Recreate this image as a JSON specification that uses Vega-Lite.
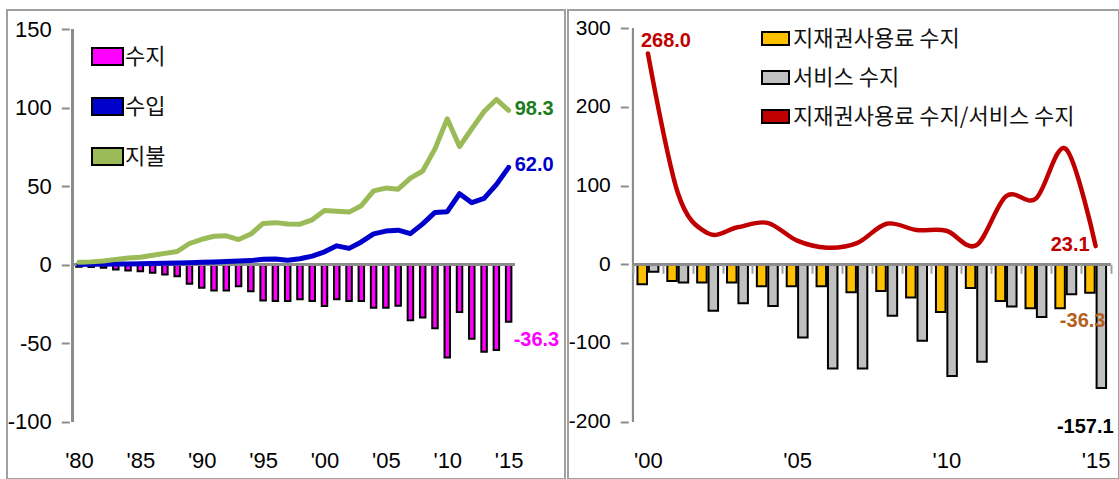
{
  "$schema": "https://vega.github.io/schema/vega-lite/v6.json",
  "background": "white",
  "padding": {"left": 6, "top": 9, "right": 0, "bottom": 0},
  "spacing": 3,
  "bounds": "flush",
  "datasets": {
    "royalty": [
      {"year": 1980, "receipts": 0.2, "payments": 1.5, "balance": -1.3},
      {"year": 1981, "receipts": 0.3, "payments": 1.8, "balance": -1.5},
      {"year": 1982, "receipts": 0.3, "payments": 2.3, "balance": -2.0},
      {"year": 1983, "receipts": 0.4, "payments": 3.4, "balance": -3.0},
      {"year": 1984, "receipts": 0.5, "payments": 4.2, "balance": -3.7},
      {"year": 1985, "receipts": 0.6, "payments": 4.7, "balance": -4.1},
      {"year": 1986, "receipts": 0.8, "payments": 6.0, "balance": -5.2},
      {"year": 1987, "receipts": 1.0, "payments": 7.2, "balance": -6.2},
      {"year": 1988, "receipts": 1.1, "payments": 8.4, "balance": -7.3},
      {"year": 1989, "receipts": 1.3, "payments": 13.5, "balance": -12.2},
      {"year": 1990, "receipts": 1.5, "payments": 16.2, "balance": -14.7},
      {"year": 1991, "receipts": 1.7, "payments": 18.1, "balance": -16.4},
      {"year": 1992, "receipts": 2.0, "payments": 18.4, "balance": -16.4},
      {"year": 1993, "receipts": 2.3, "payments": 16.0, "balance": -13.7},
      {"year": 1994, "receipts": 2.6, "payments": 19.5, "balance": -16.9},
      {"year": 1995, "receipts": 3.5, "payments": 26.3, "balance": -22.8},
      {"year": 1996, "receipts": 3.7, "payments": 26.8, "balance": -23.1},
      {"year": 1997, "receipts": 2.9, "payments": 26.0, "balance": -23.1},
      {"year": 1998, "receipts": 3.8, "payments": 25.8, "balance": -22.0},
      {"year": 1999, "receipts": 5.5, "payments": 28.6, "balance": -23.1},
      {"year": 2000, "receipts": 8.2, "payments": 34.5, "balance": -26.3},
      {"year": 2001, "receipts": 12.0, "payments": 34.0, "balance": -22.0},
      {"year": 2002, "receipts": 10.4, "payments": 33.5, "balance": -23.1},
      {"year": 2003, "receipts": 14.5, "payments": 37.6, "balance": -23.1},
      {"year": 2004, "receipts": 19.6, "payments": 47.0, "balance": -27.4},
      {"year": 2005, "receipts": 21.4, "payments": 48.8, "balance": -27.4},
      {"year": 2006, "receipts": 22.0, "payments": 48.1, "balance": -26.1},
      {"year": 2007, "receipts": 19.8, "payments": 55.2, "balance": -35.4},
      {"year": 2008, "receipts": 26.0, "payments": 59.7, "balance": -33.7},
      {"year": 2009, "receipts": 33.3, "payments": 73.8, "balance": -40.5},
      {"year": 2010, "receipts": 33.8, "payments": 93.0, "balance": -59.2},
      {"year": 2011, "receipts": 45.2, "payments": 75.3, "balance": -30.1},
      {"year": 2012, "receipts": 39.5, "payments": 86.6, "balance": -47.1},
      {"year": 2013, "receipts": 42.2, "payments": 97.6, "balance": -55.4},
      {"year": 2014, "receipts": 51.0, "payments": 105.3, "balance": -54.3},
      {"year": 2015, "receipts": 62.0, "payments": 98.3, "balance": -36.3}
    ],
    "ratio": [
      {"year": 2000, "ip": -25.5, "services": -9.5, "ratio": 268.0},
      {"year": 2001, "ip": -21.2, "services": -23.3, "ratio": 91.0},
      {"year": 2002, "ip": -23.3, "services": -58.9, "ratio": 39.6},
      {"year": 2003, "ip": -23.3, "services": -49.6, "ratio": 47.0},
      {"year": 2004, "ip": -27.9, "services": -52.9, "ratio": 52.7},
      {"year": 2005, "ip": -27.9, "services": -93.0, "ratio": 30.0},
      {"year": 2006, "ip": -27.9, "services": -132.3, "ratio": 21.1},
      {"year": 2007, "ip": -35.5, "services": -132.3, "ratio": 26.8},
      {"year": 2008, "ip": -33.8, "services": -65.5, "ratio": 51.6},
      {"year": 2009, "ip": -42.3, "services": -97.3, "ratio": 43.5},
      {"year": 2010, "ip": -60.5, "services": -142.0, "ratio": 42.6},
      {"year": 2011, "ip": -30.0, "services": -123.9, "ratio": 24.2},
      {"year": 2012, "ip": -46.6, "services": -53.8, "ratio": 86.6},
      {"year": 2013, "ip": -55.9, "services": -66.9, "ratio": 83.6},
      {"year": 2014, "ip": -55.9, "services": -38.1, "ratio": 146.7},
      {"year": 2015, "ip": -36.3, "services": -157.1, "ratio": 23.1}
    ]
  },
  "hconcat": [
    {
      "width": 558,
      "height": 469,
      "data": {"name": "royalty"},
      "resolve": {"axis": {"x": "independent", "y": "independent"}},
      "layer": [
        {
          "mark": {"type": "bar", "size": 5.5, "stroke": "#000000", "strokeWidth": 2},
          "encoding": {
            "x": {
              "field": "year", "type": "quantitative",
              "scale": {"domain": [1974.544, 2019.184], "nice": false},
              "axis": {
                "orient": "bottom", "offset": -30, "title": null,
                "values": [1980, 1985, 1990, 1995, 2000, 2005, 2010, 2015],
                "labelExpr": "\"'\" + format(datum.value % 100, '02d')",
                "domain": false, "ticks": false, "labelPadding": 1.5,
                "labelFlush": false, "labelOverlap": false
              }
            },
            "y": {
              "field": "balance", "type": "quantitative",
              "scale": {"domain": [-136.53, 162.27], "nice": false},
              "axis": {
                "orient": "left", "offset": -62.3, "title": null,
                "values": [-100, -50, 0, 50, 100, 150],
                "domain": false, "ticks": true, "tickSize": 8, "tickColor": "#8C8C8C", "tickWidth": 2, "tickOpacity": 1,
                "labelPadding": 10, "zindex": 1
              }
            },
            "color": {
              "datum": "수지", "type": "nominal",
              "scale": {"domain": ["수지", "수입", "지불"], "range": ["#FF00FF", "#0000CC", "#9BBB59"]},
              "legend": {
                "orient": "none", "legendX": 84, "legendY": 30, "title": null,
                "padding": 0, "rowPadding": 20, "symbolSize": 961, "symbolStrokeWidth": 2,
                "symbolType": "M-1,-0.55H1V0.55H-1Z",
                "labelFont": "Noto Sans CJK KR", "labelFontSize": 22, "labelColor": "#111111", "labelOffset": 1,
                "encode": {
                  "symbols": {
                    "update": {
                      "shape": {"signal": "datum.value === '수지' ? 'M-1,-0.55H1V0.55H-1Z' : 'M-1,0H1'"},
                      "fill": {"signal": "datum.value === '수지' ? '#FF00FF' : 'transparent'"},
                      "stroke": {"signal": "datum.value === '수지' ? '#000000' : (datum.value === '수입' ? '#0000CC' : '#9BBB59')"},
                      "strokeWidth": {"signal": "datum.value === '수지' ? 2 : 5"},
                      "opacity": {"value": 1}
                    }
                  }
                }
              }
            }
          }
        },
        {
          "mark": {"type": "rule", "color": "#8C8C8C", "strokeWidth": 2},
          "encoding": {
            "x": {"datum": 1979.5, "type": "quantitative", "axis": null},
            "x2": {"datum": 2015.5},
            "y": {"datum": 0, "type": "quantitative", "axis": null}
          }
        },
        {
          "mark": {"type": "rule", "color": "#8C8C8C", "strokeWidth": 2},
          "encoding": {
            "x": {"datum": 1979.5, "type": "quantitative", "axis": null},
            "y": {"datum": -100, "type": "quantitative", "axis": null},
            "y2": {"datum": 150}
          }
        },
        {
          "mark": {"type": "line", "color": "#0000CC", "strokeWidth": 5, "strokeCap": "round", "strokeJoin": "round"},
          "encoding": {
            "x": {"field": "year", "type": "quantitative", "axis": null},
            "y": {"field": "receipts", "type": "quantitative", "axis": null}
          }
        },
        {
          "mark": {"type": "line", "color": "#9BBB59", "strokeWidth": 5, "strokeCap": "round", "strokeJoin": "round"},
          "encoding": {
            "x": {"field": "year", "type": "quantitative", "axis": null},
            "y": {"field": "payments", "type": "quantitative", "axis": null}
          }
        },
        {
          "transform": [{"filter": "datum.year === 2015"}],
          "mark": {"type": "text", "align": "left", "baseline": "middle", "dx": 6, "dy": -1, "font": "Liberation Sans", "fontWeight": "bold", "fontSize": 20, "color": "#1E7B1E"},
          "encoding": {
            "x": {"field": "year", "type": "quantitative", "axis": null},
            "y": {"field": "payments", "type": "quantitative", "axis": null},
            "text": {"field": "payments", "type": "quantitative", "format": ".1f"}
          }
        },
        {
          "transform": [{"filter": "datum.year === 2015"}],
          "mark": {"type": "text", "align": "left", "baseline": "middle", "dx": 6, "dy": -2, "font": "Liberation Sans", "fontWeight": "bold", "fontSize": 20, "color": "#0000CC"},
          "encoding": {
            "x": {"field": "year", "type": "quantitative", "axis": null},
            "y": {"field": "receipts", "type": "quantitative", "axis": null},
            "text": {"field": "receipts", "type": "quantitative", "format": ".1f"}
          }
        },
        {
          "transform": [{"filter": "datum.year === 2015"}],
          "mark": {"type": "text", "align": "left", "baseline": "middle", "dx": 5, "dy": 18, "font": "Liberation Sans", "fontWeight": "bold", "fontSize": 20, "color": "#FF00FF"},
          "encoding": {
            "x": {"field": "year", "type": "quantitative", "axis": null},
            "y": {"field": "balance", "type": "quantitative", "axis": null},
            "text": {"field": "balance", "type": "quantitative", "format": ".1f"}
          }
        }
      ]
    },
    {
      "width": 551,
      "height": 469,
      "data": {"name": "ratio"},
      "resolve": {"axis": {"x": "independent", "y": "independent"}},
      "layer": [
        {
          "mark": {"type": "bar", "size": 9.5, "xOffset": -5.7, "stroke": "#000000", "strokeWidth": 2},
          "encoding": {
            "x": {
              "field": "year", "type": "quantitative",
              "scale": {"domain": [1997.49, 2015.615], "nice": false},
              "axis": {
                "orient": "bottom", "offset": -30, "title": null,
                "values": [2000, 2005, 2010, 2015],
                "labelExpr": "\"'\" + format(datum.value % 100, '02d')",
                "domain": false, "ticks": false, "labelPadding": 1.5,
                "labelFlush": false, "labelOverlap": false
              }
            },
            "y": {
              "field": "ip", "type": "quantitative",
              "scale": {"domain": [-272.9, 323.2], "nice": false},
              "axis": {
                "orient": "left", "offset": -60.3, "title": null,
                "values": [-200, -100, 0, 100, 200, 300],
                "domain": false, "ticks": true, "tickSize": 8, "tickColor": "#8C8C8C", "tickWidth": 2, "tickOpacity": 1,
                "labelPadding": 10, "labelFontSize": 21, "zindex": 1
              }
            },
            "color": {
              "datum": "지재권사용료 수지", "type": "nominal",
              "scale": {
                "domain": ["지재권사용료 수지", "서비스 수지", "지재권사용료 수지/서비스 수지"],
                "range": ["#FFC000", "#C0C0C0", "#C00000"]
              },
              "legend": {
                "orient": "none", "legendX": 193, "legendY": 14, "title": null,
                "padding": 0, "rowPadding": 13, "symbolSize": 729, "symbolStrokeWidth": 2,
                "symbolType": "M-1,-0.48H1V0.48H-1Z",
                "labelFont": "Noto Sans CJK KR", "labelFontSize": 22, "labelColor": "#111111", "labelOffset": 3,
                "labelLimit": 400,
                "encode": {
                  "symbols": {
                    "update": {
                      "shape": {"signal": "datum.value === '지재권사용료 수지/서비스 수지' ? 'M-1,0H1' : 'M-1,-0.48H1V0.48H-1Z'"},
                      "fill": {"signal": "datum.value === '지재권사용료 수지' ? '#FFC000' : (datum.value === '서비스 수지' ? '#C0C0C0' : 'transparent')"},
                      "stroke": {"signal": "datum.value === '지재권사용료 수지/서비스 수지' ? '#C00000' : '#000000'"},
                      "strokeWidth": {"signal": "datum.value === '지재권사용료 수지/서비스 수지' ? 5 : 2"},
                      "opacity": {"value": 1}
                    }
                  }
                }
              }
            }
          }
        },
        {
          "mark": {"type": "bar", "size": 9.5, "xOffset": 5.7, "stroke": "#000000", "strokeWidth": 2},
          "encoding": {
            "x": {
              "field": "year", "type": "quantitative",
              "axis": {
                "orient": "bottom", "offset": -214.7, "title": null,
                "values": [1999.5, 2000.5, 2001.5, 2002.5, 2003.5, 2004.5, 2005.5, 2006.5, 2007.5, 2008.5, 2009.5, 2010.5, 2011.5, 2012.5, 2013.5, 2014.5, 2015.5],
                "domain": false, "labels": false, "ticks": true, "tickSize": 9, "tickWidth": 2, "tickColor": "#A0A0A0", "tickOpacity": 1, "zindex": 1
              }
            },
            "y": {"field": "services", "type": "quantitative", "axis": null},
            "color": {"datum": "서비스 수지", "type": "nominal", "legend": null}
          }
        },
        {
          "mark": {"type": "rule", "color": "#8C8C8C", "strokeWidth": 2},
          "encoding": {
            "x": {"datum": 1999.5, "type": "quantitative", "axis": null},
            "x2": {"datum": 2015.5},
            "y": {"datum": 0, "type": "quantitative", "axis": null}
          }
        },
        {
          "mark": {"type": "rule", "color": "#8C8C8C", "strokeWidth": 2},
          "encoding": {
            "x": {"datum": 1999.5, "type": "quantitative", "axis": null},
            "y": {"datum": -200, "type": "quantitative", "axis": null},
            "y2": {"datum": 300}
          }
        },
        {
          "mark": {"type": "line", "color": "#C00000", "strokeWidth": 4.5, "interpolate": "cardinal", "strokeCap": "round", "strokeJoin": "round"},
          "encoding": {
            "x": {"field": "year", "type": "quantitative", "axis": null},
            "y": {"field": "ratio", "type": "quantitative", "axis": null}
          }
        },
        {
          "transform": [{"filter": "datum.year === 2000"}],
          "mark": {"type": "text", "align": "left", "baseline": "middle", "dx": -7, "dy": -12, "font": "Liberation Sans", "fontWeight": "bold", "fontSize": 20, "color": "#C00000"},
          "encoding": {
            "x": {"field": "year", "type": "quantitative", "axis": null},
            "y": {"field": "ratio", "type": "quantitative", "axis": null},
            "text": {"field": "ratio", "type": "quantitative", "format": ".1f"}
          }
        },
        {
          "transform": [{"filter": "datum.year === 2015"}],
          "mark": {"type": "text", "align": "right", "baseline": "middle", "dx": -6, "dy": -1, "font": "Liberation Sans", "fontWeight": "bold", "fontSize": 20, "color": "#C00000"},
          "encoding": {
            "x": {"field": "year", "type": "quantitative", "axis": null},
            "y": {"field": "ratio", "type": "quantitative", "axis": null},
            "text": {"field": "ratio", "type": "quantitative", "format": ".1f"}
          }
        },
        {
          "transform": [{"filter": "datum.year === 2015"}],
          "mark": {"type": "text", "align": "center", "baseline": "middle", "dx": -13, "dy": 28, "font": "Liberation Sans", "fontWeight": "bold", "fontSize": 20, "color": "#B45F1E"},
          "encoding": {
            "x": {"field": "year", "type": "quantitative", "axis": null},
            "y": {"field": "ip", "type": "quantitative", "axis": null},
            "text": {"field": "ip", "type": "quantitative", "format": ".1f"}
          }
        },
        {
          "transform": [{"filter": "datum.year === 2015"}],
          "mark": {"type": "text", "align": "right", "baseline": "middle", "dx": 18, "dy": 39, "font": "Liberation Sans", "fontWeight": "bold", "fontSize": 20, "color": "#000000"},
          "encoding": {
            "x": {"field": "year", "type": "quantitative", "axis": null},
            "y": {"field": "services", "type": "quantitative", "axis": null},
            "text": {"field": "services", "type": "quantitative", "format": ".1f"}
          }
        }
      ]
    }
  ],
  "resolve": {
    "scale": {"x": "independent", "y": "independent", "color": "independent"},
    "legend": {"color": "independent"}
  },
  "config": {
    "locale": {
      "number": {"decimal": ".", "thousands": ",", "grouping": [3], "currency": ["$", ""], "minus": "-"}
    },
    "view": {"stroke": "#A0A0A0", "strokeWidth": 2},
    "axis": {
      "grid": false,
      "labelFont": "Liberation Sans",
      "labelFontSize": 22,
      "labelColor": "#000000"
    }
  }
}
